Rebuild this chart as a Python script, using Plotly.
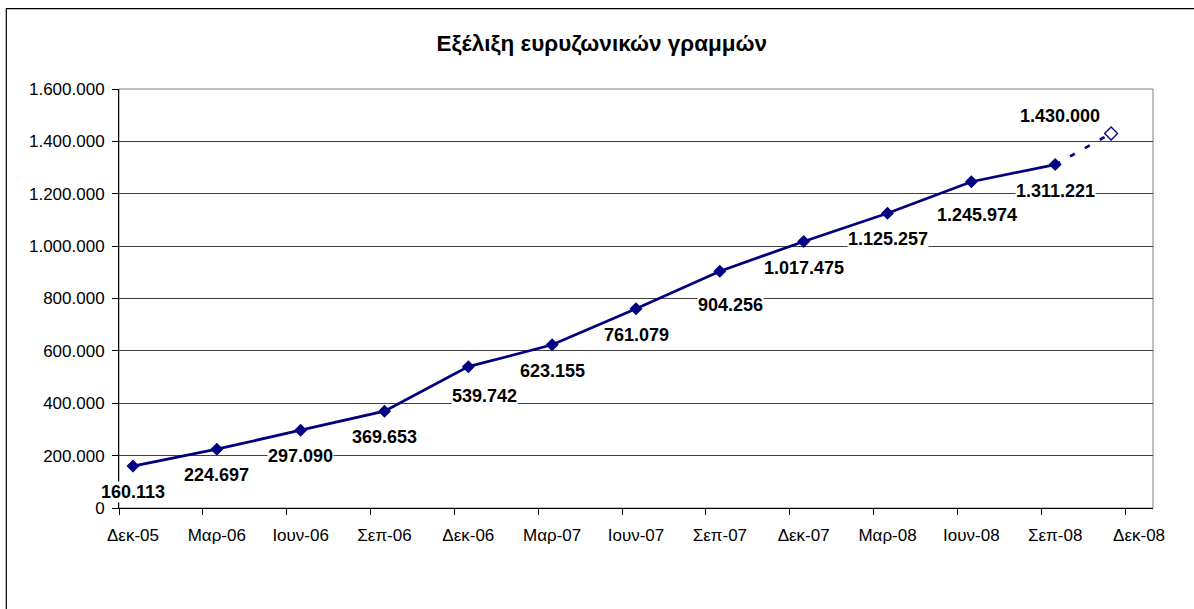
import plotly.graph_objects as go

# Broadband lines per quarter (month of measurement, number of lines)
months = ["2005-12", "2006-03", "2006-06", "2006-09", "2006-12", "2007-03",
          "2007-06", "2007-09", "2007-12", "2008-03", "2008-06", "2008-09"]
lines = [160113, 224697, 297090, 369653, 539742, 623155,
         761079, 904256, 1017475, 1125257, 1245974, 1311221]

# estimate for the end of 2008
forecast_month = "2008-11"
forecast_value = 1430000

tick_labels = ["Δεκ-05", "Μαρ-06", "Ιουν-06", "Σεπ-06", "Δεκ-06", "Μαρ-07", "Ιουν-07",
               "Σεπ-07", "Δεκ-07", "Μαρ-08", "Ιουν-08", "Σεπ-08", "Δεκ-08"]

FONT = "Arial, Liberation Sans, sans-serif"
NAVY = "#000080"


def month_index(s):
    """Months since Dec 2005 (Excel date axis with a month base unit)."""
    y, m = map(int, s.split("-"))
    return (y - 2005) * 12 + m - 12


def fmt(v):
    return f"{v:,}".replace(",", ".")


x = [month_index(m) for m in months]
x_fc = month_index(forecast_month)

fig = go.Figure()

fig.add_trace(go.Scatter(
    x=x, y=lines, mode="lines+markers",
    line=dict(color=NAVY, width=2.75),
    marker=dict(symbol="diamond", size=10, color=NAVY),
    showlegend=False, hoverinfo="skip"
))

# dashed projection to the estimate
fig.add_trace(go.Scatter(
    x=[x[-1], x_fc], y=[lines[-1], forecast_value], mode="lines",
    line=dict(color=NAVY, width=2.75, dash="5.5px,11.5px"),
    showlegend=False, hoverinfo="skip"
))
fig.add_trace(go.Scatter(
    x=[x_fc], y=[forecast_value], mode="markers",
    marker=dict(symbol="diamond", size=10, color="white",
                line=dict(color=NAVY, width=1.3)),
    showlegend=False, hoverinfo="skip"
))

# data labels sit below the points; a few were moved by hand in the original
nudges = {4: (16, 29), 7: (11, 34), 10: (6, 33)}
for i, (xi, v) in enumerate(zip(x, lines)):
    dx, dy = nudges.get(i, (0, 26))
    fig.add_annotation(
        x=xi, y=v, xref="x", yref="y", text=fmt(v), showarrow=False,
        xshift=dx, yshift=-dy, bgcolor="white", borderpad=0,
        font=dict(family=FONT, size=18, color="black", weight="bold")
    )
fig.add_annotation(
    x=x_fc, y=forecast_value, xref="x", yref="y", text=fmt(forecast_value),
    showarrow=False, xshift=-51, yshift=18,
    font=dict(family=FONT, size=18, color="black", weight="bold")
)

# plot-area frame and the outer chart border
fig.add_shape(type="rect", xref="paper", yref="paper", x0=0, x1=1, y0=0, y1=1,
              line=dict(color="#808080", width=1), layer="below")
fig.add_shape(type="rect", xref="paper", yref="paper", x0=-0.109, x1=1.2,
              y0=-0.35, y1=1.192, line=dict(color="black", width=1.2))

fig.update_layout(
    width=1194, height=609,
    margin=dict(l=119, r=41, t=89, b=101),
    paper_bgcolor="white", plot_bgcolor="white",
    separators=",.",
    font=dict(family=FONT, size=17, color="black"),
    title=dict(text="Εξέλιξη ευρυζωνικών γραμμών", x=0.504, xanchor="center",
               y=1 - 42.7 / 609, yanchor="middle", yref="container",
               font=dict(family=FONT, size=22.5, color="black", weight="bold")),
)

fig.update_xaxes(
    range=[-0.5, 36.5], showgrid=False, zeroline=False,
    showline=True, linecolor="black", linewidth=1,
    tickmode="array", tickvals=[3 * i for i in range(len(tick_labels))],
    ticktext=tick_labels, ticks="", ticklabelstandoff=12,
    minor=dict(tickmode="array",
               tickvals=[3 * i - 0.5 for i in range(len(tick_labels))],
               ticks="outside", ticklen=6, tickcolor="black", tickwidth=1,
               showgrid=False),
    tickfont=dict(family=FONT, size=17, color="black"),
)
fig.update_yaxes(
    range=[0, 1600000], dtick=200000, tickformat=",d",
    showgrid=True, gridcolor="#404040", gridwidth=1, zeroline=False,
    showline=True, linecolor="black", linewidth=1,
    ticks="outside", ticklen=6, tickcolor="black", ticklabelstandoff=4,
    tickfont=dict(family=FONT, size=17, color="black"),
)

# the page has a default 8px body margin; drop it so the chart fills the window
fig.write_html("out.html", config={"displayModeBar": False},
               post_script="document.body.style.margin='0';")
